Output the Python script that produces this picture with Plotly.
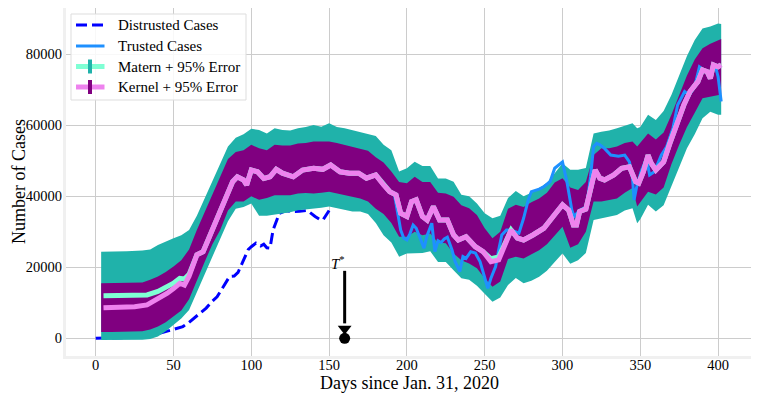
import plotly.graph_objects as go

# ---------------- data ----------------
distrusted_days = [0, 10, 20, 30, 36, 41, 50, 56, 60, 63, 67, 71, 75, 78, 82, 86, 89, 91.5,
                   94, 96, 98, 100, 103, 106, 108, 110, 112, 114, 116, 118, 122, 127, 131,
                   136, 141, 144, 146, 148, 150]
distrusted_cases = [0, 0, 200, 500, 1000, 1400, 2500, 3300, 4500, 5600, 7000, 8500, 10500,
                    11700, 14500, 17400, 17500, 18600, 21000, 23000, 25000, 25800, 26800,
                    26000, 26500, 25500, 25400, 30500, 33000, 35200, 35900, 35700, 35800,
                    36000, 34300, 33500, 33300, 34500, 36000]

trusted_days = [185, 189, 192, 194, 196, 198, 200, 202, 204, 206, 208, 210, 211, 213, 215,
                216, 218, 220, 222, 224, 226, 228, 229, 231, 234, 236, 238, 241, 244, 247,
                250, 252, 254, 257, 259, 261, 264, 267, 270, 272, 275, 278, 280, 285, 288,
                292, 295, 298, 300, 303, 306, 307.5, 311, 315.5, 318, 320, 322, 324, 327,
                331, 336, 340, 343, 345, 346, 347.5, 350.5, 354, 356, 359, 363.5, 367, 371,
                374, 378.5, 381.5, 385, 388, 391, 395, 398, 400, 401, 402]
trusted_cases = [43200, 41300, 40500, 36000, 30500, 28200, 27700, 29500, 31900, 31000, 28600,
                 26500, 25400, 29000, 31000, 32400, 24400, 27500, 27000, 28000, 28500, 26000,
                 24900, 21600, 18800, 23000, 22500, 24400, 24000, 21600, 17400, 14100, 16900,
                 20200, 24900, 29100, 30500, 30500, 30000, 29600, 33800, 39000, 41300, 42000,
                 42700, 44100, 47900, 49000, 49700, 43700, 36100, 34300, 36100, 37000, 45500,
                 54000, 54900, 54500, 53500, 51600, 51300, 51600, 49700, 45100, 39000, 42300,
                 46900, 50700, 46000, 46900, 51600, 54000, 59200, 65700, 69500, 68500, 70900,
                 76500, 75500, 74600, 77000, 73700, 70400, 66700]

mean_days = [5, 15, 25, 33, 40, 46, 50, 54, 57, 60, 65, 69, 72, 76, 79, 82, 85, 88, 91, 95,
             97, 100, 104, 108, 112, 116, 120, 127, 133, 140, 146, 151, 157, 163, 169, 174,
             180, 185, 189, 193, 196, 200, 203, 206, 210, 213, 217, 221, 226, 230, 233, 238,
             244, 249, 254, 259, 263, 267, 271, 275, 281, 288, 294, 300, 304, 307, 309, 311,
             315, 319, 321, 324, 327, 333, 338, 343, 347, 349, 352, 355, 357, 360, 365, 369,
             373, 378, 382, 387, 390, 393, 395, 397, 400, 402]
kernel_mean = [8600, 8700, 8900, 9400, 11000, 12700, 14000, 15500, 15000, 17500, 23500, 24400,
               27500, 31400, 35000, 37500, 41000, 44100, 45500, 44600, 43200, 47400, 46900,
               45000, 45500, 47600, 46500, 45500, 47400, 47900, 47600, 48800, 46900, 46500,
               46500, 45100, 46000, 43200, 41300, 40400, 35200, 34300, 38500, 39000, 34300,
               33300, 37100, 33300, 33300, 29100, 27700, 28600, 25800, 24400, 21600, 22100,
               26800, 30500, 28200, 27700, 29100, 31000, 34300, 37600, 36100, 31900, 31900,
               35700, 36400, 43000, 47400, 45100, 44600, 46000, 47900, 48300, 44100, 43700,
               46900, 51600, 49300, 47400, 49700, 54900, 60100, 65700, 69500, 72300, 75600,
               75100, 73200, 77000, 76500, 77000]
matern_mean = [12000, 12000, 12100, 12200, 13200, 14500, 15500, 16900, 16700, 18000, 23500,
               24400, 27500, 31400, 35000, 37500, 41000, 44100, 45500, 44600, 43200, 47400,
               46900, 45000, 45500, 47600, 46500, 45500, 47400, 47900, 47600, 48800, 46900,
               46500, 46500, 45100, 46000, 43200, 41300, 40400, 35200, 34300, 38500, 39000,
               34300, 33300, 37100, 33300, 33300, 29100, 27700, 28600, 25800, 24400, 22400,
               22900, 26800, 30500, 28200, 27700, 29100, 31000, 34300, 37600, 36100, 31900,
               31900, 35700, 36400, 43000, 47400, 45100, 44600, 46000, 47900, 48300, 44100,
               43700, 46900, 51600, 49300, 47400, 49700, 54900, 60100, 65700, 69500, 72300,
               75600, 75100, 73200, 77000, 76500, 77000]

band_days = [3.5, 10, 20, 30, 35, 40, 45, 50, 55, 60, 65, 70, 75, 80, 85, 90, 95, 100, 105,
             110, 115, 120, 125, 130, 135, 140, 145, 150, 155, 160, 165, 170, 175, 180, 185,
             190, 195, 200, 205, 210, 215, 220, 225, 230, 235, 240, 245, 250, 255, 260, 265,
             270, 275, 280, 285, 290, 295, 300, 305, 310, 315, 320, 325, 330, 335, 340, 345,
             348, 350, 355, 360, 365, 370, 375, 380, 385, 390, 395, 400, 402]
matern_hi = [24400, 24400, 24500, 24700, 25000, 26300, 27300, 28200, 29000, 30500, 34500,
             39500, 44500, 49500, 54000, 56500, 57500, 59000, 58700, 57700, 59200, 58700,
             58500, 59200, 59500, 60100, 59600, 60600, 59500, 59200, 58700, 58200, 57500,
             57000, 54500, 53000, 47000, 47900, 49700, 48500, 48500, 45000, 45000, 44100,
             40400, 40000, 38000, 35200, 33800, 34500, 39500, 41500, 40000, 41000, 42300,
             43800, 46500, 49300, 47500, 47500, 48000, 57700, 58200, 58500, 59200, 60000,
             60600, 59200, 59500, 63000, 61500, 64000, 68500, 74000, 79500, 84000, 87300,
             87800, 88700, 88500]
matern_lo = [-500, -500, -500, -400, -200, 500, 2000, 3700, 5600, 8000, 12700, 17500, 22500,
             28000, 33000, 36500, 37000, 38000, 34500, 34500, 35000, 35200, 35500, 36100,
             36300, 36600, 36800, 37100, 36500, 36100, 35700, 35700, 35000, 32500, 29000,
             27000, 23000, 23900, 23900, 24000, 24500, 21500, 21500, 19200, 16900, 16500,
             14800, 12700, 10300, 11500, 15000, 17000, 15500, 16200, 17300, 19000, 21500,
             23900, 21000, 22000, 24000, 33300, 33800, 34200, 34700, 36000, 36600, 32400,
             33500, 37600, 35700, 37500, 42500, 48000, 53500, 57500, 62000, 63800, 63000,
             63000]
kernel_hi = [15500, 15500, 15500, 15700, 16500, 17400, 18700, 20200, 22000, 25000, 30500,
             35500, 40000, 45500, 50500, 52500, 53000, 54500, 53500, 53000, 54500, 54300,
             54300, 54900, 55000, 55400, 55400, 55400, 55000, 54500, 54000, 53500, 52800,
             51000, 49500, 47000, 44000, 43700, 45500, 44000, 44000, 41000, 40800, 39900,
             37500, 36600, 34700, 31000, 28200, 30000, 36500, 37600, 37000, 38300, 39400,
             41000, 43900, 45100, 42500, 41800, 44000, 51600, 53500, 53500, 54000, 55000,
             55400, 54000, 55000, 57700, 56000, 58000, 63000, 68500, 74000, 78500, 81700,
             83000, 84000, 84300]
kernel_lo = [1800, 1800, 1800, 2000, 2500, 3300, 4500, 6100, 7800, 11000, 16400, 21500, 26500,
             30500, 36000, 38500, 38500, 40000, 39000, 39500, 40300, 40400, 40300, 40800,
             40900, 40800, 41000, 41300, 40800, 40400, 39900, 39400, 38500, 36500, 35000,
             32500, 28600, 28600, 30000, 29000, 29500, 27000, 26800, 23900, 22000, 21100,
             19700, 16900, 14500, 16000, 22300, 23000, 22500, 23700, 24800, 26500, 28800,
             31400, 25500, 26500, 30000, 38500, 38500, 39000, 39400, 41000, 42300, 37100,
             38500, 41300, 40500, 42500, 49000, 54500, 59500, 63500, 67600, 68000, 68500,
             68700]

x_ticks = [0, 50, 100, 150, 200, 250, 300, 350, 400]
y_ticks = [0, 20000, 40000, 60000, 80000]
t_star_day = 160
t_star_value = 0
t_star_arrow_tail = 19000
t_star_arrow_shaft_end = 4200
t_star_arrow_head = 2700

legend_labels = ["Distrusted Cases", "Trusted Cases", "Matern + 95% Error", "Kernel + 95% Error"]
x_title = "Days since Jan. 31, 2020"
y_title = "Number of Cases"

# ---------------- styling ----------------
FONT = "Liberation Serif"
BLUE = "#0000ff"
DODGER = "#1e90ff"
TEAL = "#20b2aa"
AQUA = "#7fffd4"
PURPLE = "#800080"
VIOLET = "#ee82ee"

# The page body keeps its default 8px margin, so the figure is drawn 8px in.
OFF = 8
W, H = 759 - OFF, 399 - OFF
# plot area in page pixels: x 66..752, y 8..356
ML, MR, MT, MB = 66 - OFF, 759 - 752, 0, 399 - 356
PW, PH = W - ML - MR, H - MT - MB


def px_x(px):
    return (px - OFF - ML) / PW


def px_y(py):
    return (H - MB - (py - OFF)) / PH


fig = go.Figure()

fig.add_trace(go.Scatter(x=distrusted_days, y=distrusted_cases, mode="lines",
                         line=dict(color=BLUE, width=3, dash="11px,5px"),
                         name=legend_labels[0], showlegend=False))

fig.add_trace(go.Scatter(x=band_days + band_days[::-1], y=matern_hi + matern_lo[::-1],
                         fill="toself", fillcolor=TEAL, mode="lines",
                         line=dict(width=0, color=TEAL), showlegend=False,
                         hoverinfo="skip"))
fig.add_trace(go.Scatter(x=band_days + band_days[::-1], y=kernel_hi + kernel_lo[::-1],
                         fill="toself", fillcolor=PURPLE, mode="lines",
                         line=dict(width=0, color=PURPLE), showlegend=False,
                         hoverinfo="skip"))

fig.add_trace(go.Scatter(x=trusted_days, y=trusted_cases, mode="lines",
                         line=dict(color=DODGER, width=3), name=legend_labels[1],
                         showlegend=False))

fig.add_trace(go.Scatter(x=mean_days, y=matern_mean, mode="lines",
                         line=dict(color=AQUA, width=5), name=legend_labels[2],
                         showlegend=False))
fig.add_trace(go.Scatter(x=mean_days, y=kernel_mean, mode="lines",
                         line=dict(color=VIOLET, width=5), name=legend_labels[3],
                         showlegend=False))

# T* marker, arrow shaft and arrow head
fig.add_trace(go.Scatter(x=[t_star_day], y=[t_star_value], mode="markers",
                         marker=dict(color="black", size=11), showlegend=False))
fig.add_trace(go.Scatter(x=[t_star_day, t_star_day], y=[t_star_arrow_tail, t_star_arrow_shaft_end],
                         mode="lines", line=dict(color="black", width=3), showlegend=False))
fig.add_trace(go.Scatter(x=[t_star_day], y=[t_star_arrow_head], mode="markers",
                         marker=dict(color="black", size=12, symbol="triangle-down"),
                         showlegend=False))
fig.add_annotation(x=t_star_day - 4, y=t_star_arrow_tail + 2300, xref="x", yref="y",
                   text="<i>T</i><sup>*</sup>", showarrow=False,
                   font=dict(family=FONT, size=15, color="black"))

# manual legend (matplotlib-like)
shapes = []
annots = []
shapes.append(dict(type="rect", xref="paper", yref="paper", x0=px_x(71), x1=px_x(246),
                   y0=px_y(100), y1=px_y(14), line=dict(color="#dddddd", width=1),
                   fillcolor="rgba(255,255,255,0.85)", layer="above"))
rows = [25, 46, 66.5, 87]
line_styles = [dict(color=BLUE, width=3, dash="11px,5px"), dict(color=DODGER, width=3),
               dict(color=AQUA, width=5), dict(color=VIOLET, width=5)]
bar_colors = [None, None, TEAL, PURPLE]
for r, ls, bc, lab in zip(rows, line_styles, bar_colors, legend_labels):
    shapes.append(dict(type="line", xref="paper", yref="paper", x0=px_x(76), x1=px_x(104.5),
                       y0=px_y(r), y1=px_y(r), line=ls, layer="above"))
    if bc:
        shapes.append(dict(type="line", xref="paper", yref="paper", x0=px_x(90), x1=px_x(90),
                           y0=px_y(r - 7), y1=px_y(r + 7), line=dict(color=bc, width=4),
                           layer="above"))
    annots.append(dict(xref="paper", yref="paper", x=px_x(116), y=px_y(r), text=lab,
                       showarrow=False, xanchor="left", yanchor="middle",
                       font=dict(family=FONT, size=15, color="black")))

# axis titles
annots.append(dict(xref="paper", yref="paper", x=px_x(409), y=px_y(383), text=x_title,
                   showarrow=False, xanchor="center", yanchor="middle",
                   font=dict(family=FONT, size=18, color="black")))
annots.append(dict(xref="paper", yref="paper", x=px_x(19), y=px_y(182), text=y_title,
                   showarrow=False, xanchor="center", yanchor="middle", textangle=-90,
                   font=dict(family=FONT, size=18, color="black")))

for a in annots:
    fig.add_annotation(**a)

fig.update_layout(
    width=W, height=H,
    margin=dict(l=ML, r=MR, t=MT, b=MB, pad=0, autoexpand=False),
    paper_bgcolor="white", plot_bgcolor="white",
    font=dict(family=FONT, size=14.5, color="black"),
    shapes=shapes,
    showlegend=False,
)
fig.update_xaxes(range=[-19.1, 421.8], tickvals=x_ticks, ticktext=[str(t) for t in x_ticks],
                 showgrid=True, gridcolor="#cccccc", gridwidth=1, zeroline=False,
                 showline=True, linecolor="#f0f0f0", linewidth=3, mirror=True,
                 ticks="", tickfont=dict(family=FONT, size=14.5), automargin=False,
                 ticklabelstandoff=-6)
fig.update_yaxes(range=[-4990, 93040], tickvals=y_ticks, ticktext=[str(t) for t in y_ticks],
                 showgrid=True, gridcolor="#cccccc", gridwidth=1, zeroline=False,
                 showline=True, linecolor="#f0f0f0", linewidth=3, mirror=True,
                 ticks="", tickfont=dict(family=FONT, size=14.5), automargin=False,
                 ticklabelstandoff=-2)

fig.write_html("out.html")
